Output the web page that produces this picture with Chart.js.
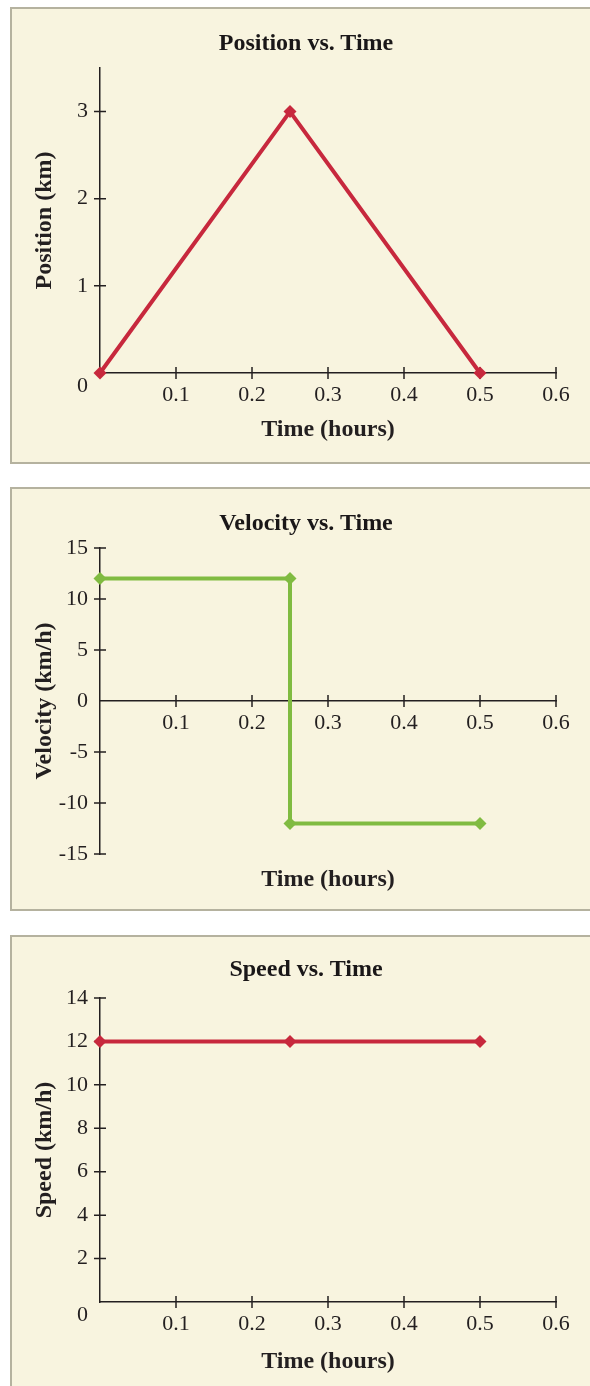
<!DOCTYPE html>
<html>
<head>
<meta charset="utf-8">
<script src="https://cdn.jsdelivr.net/npm/chart.js@4.4.1/dist/chart.umd.min.js"></script>
<style>
  html, body { margin: 0; padding: 0; background: #fff; overflow: hidden; }
  body { width: 590px; height: 1386px; position: relative; font-family: "Liberation Serif", serif; }
  .panel {
    position: absolute; left: 10px; width: 600px;
    background: #f8f4df;
    border: 2px solid #b5b29f;
    box-sizing: border-box;
  }
  .panel h3 {
    position: absolute; left: 0; width: 588px; margin: 0;
    text-align: center; font: bold 24px/28px "Liberation Serif", serif; color: #1a1718;
    z-index: 2;
  }
  .panel canvas { position: absolute; left: 0; }
</style>
</head>
<body>

<div class="panel" style="top:7px; height:457px;">
  <h3 style="top:19px;">Position vs. Time</h3>
  <canvas id="posChart" width="578" height="453" style="top:0;"></canvas>
</div>

<div class="panel" style="top:487px; height:424px;">
  <h3 style="top:19px;">Velocity vs. Time</h3>
  <canvas id="velChart" width="578" height="420" style="top:0;"></canvas>
</div>

<div class="panel" style="top:935px; height:460px;">
  <h3 style="top:17px;">Speed vs. Time</h3>
  <canvas id="speedChart" width="578" height="449" style="top:0;"></canvas>
</div>

<script>
// ---- data ----
const posTimes = [0, 0.25, 0.5];
const posValues = [0, 3, 0];

const velTimes = [0, 0.25, 0.25, 0.5];
const velValues = [12, 12, -12, -12];

const speedTimes = [0, 0.25, 0.5];
const speedValues = [12, 12, 12];

const timeRange = [0, 0.6];      // x axis, ticks every 0.1
const posRange = [0, 3.5];       // ticks every 1
const velRange = [-15, 15];      // ticks every 5
const speedRange = [0, 14];      // ticks every 2

const RED = '#c7283d';
const GREEN = '#80bb41';
const INK = '#231f20';
const FONT = '"Liberation Serif", serif';

// small "+" ticks that cross the axis lines
const crossTicks = {
  id: 'crossTicks',
  beforeDatasetsDraw(chart) {
    const {ctx, scales: {x, y}} = chart;
    const x0 = x.getPixelForValue(0);
    const y0 = y.getPixelForValue(0);
    ctx.save();
    ctx.strokeStyle = INK;
    ctx.lineWidth = 1.5;
    ctx.beginPath();
    x.ticks.forEach(t => {
      if (Math.abs(t.value) < 1e-9) return;
      const px = x.getPixelForValue(t.value);
      ctx.moveTo(px, y0 - 6); ctx.lineTo(px, y0 + 6);
    });
    y.ticks.forEach(t => {
      if (Math.abs(t.value) < 1e-9) return;
      const py = y.getPixelForValue(t.value);
      ctx.moveTo(x0 - 6, py); ctx.lineTo(x0 + 6, py);
    });
    ctx.stroke();
    ctx.restore();
  }
};

function points(xs, ys) {
  return xs.map((x, i) => ({x: x, y: ys[i]}));
}

function xScale(extra) {
  return Object.assign({
    type: 'linear',
    min: timeRange[0],
    max: timeRange[1],
    bounds: 'data',
    grid: {display: false, drawTicks: false},
    border: {display: true, color: INK, width: 1.5},
    ticks: {
      stepSize: 0.1,
      autoSkip: false,
      maxRotation: 0,
      padding: 9,
      color: INK,
      font: {family: FONT, size: 22},
      callback: v => (Math.abs(v) < 1e-9 ? '' : v.toFixed(1))
    }
  }, extra);
}

function yScale(range, step, titleText, zeroBelow) {
  return {
    type: 'linear',
    position: 'left',
    min: range[0],
    max: range[1],
    bounds: 'data',
    grid: {display: false, drawTicks: false},
    border: {display: true, color: INK, width: 1.5},
    ticks: {
      stepSize: step,
      includeBounds: false,
      autoSkip: false,
      padding: 12,
      color: INK,
      font: {family: FONT, size: 22},
      // corner "0" sits just below the origin
      callback: v => (zeroBelow && v === 0 ? ['', '0'] : String(v))
    },
    title: {
      display: true,
      text: titleText,
      color: INK,
      font: {family: FONT, size: 24, weight: 'bold'},
      padding: {top: 18.6, bottom: 0}
    },
    afterFit: s => { s.width = 88; }
  };
}

function lineSet(xs, ys, color) {
  return {
    data: points(xs, ys),
    borderColor: color,
    backgroundColor: color,
    borderWidth: 4,
    pointStyle: 'rectRot',
    pointRadius: 6.5,
    pointBorderWidth: 0,
    tension: 0,
    clip: false
  };
}

function baseOptions(padTop, scales) {
  return {
    responsive: false,
    animation: false,
    events: [],
    layout: {padding: {top: padTop, right: 34, left: 0, bottom: 0}},
    plugins: {legend: {display: false}, tooltip: {enabled: false}},
    scales: scales
  };
}

const timeTitle = (padBottom) => ({
  display: true,
  text: 'Time (hours)',
  color: INK,
  font: {family: FONT, size: 24, weight: 'bold'},
  padding: {top: 0, bottom: padBottom}
});

// ---- Position vs. Time ----
new Chart(document.getElementById('posChart'), {
  type: 'line',
  data: {datasets: [lineSet(posTimes, posValues, RED)]},
  options: baseOptions(59, {
    x: xScale({position: 'bottom', title: timeTitle(17.6), afterFit: s => { s.height = 89; }}),
    y: yScale(posRange, 1, 'Position (km)', true)
  }),
  plugins: [crossTicks]
});

// ---- Velocity vs. Time ----
new Chart(document.getElementById('velChart'), {
  type: 'line',
  data: {datasets: [lineSet(velTimes, velValues, GREEN)]},
  options: baseOptions(59, {
    x: xScale({position: {y: 0}}),
    xTitle: {
      type: 'linear', position: 'bottom', min: timeRange[0], max: timeRange[1],
      grid: {display: false, drawTicks: false},
      border: {display: false},
      ticks: {display: false},
      title: timeTitle(14.6),
      afterFit: s => { s.height = 55; }
    },
    y: yScale(velRange, 5, 'Velocity (km/h)', false)
  }),
  plugins: [crossTicks]
});

// ---- Speed vs. Time ----
new Chart(document.getElementById('speedChart'), {
  type: 'line',
  data: {datasets: [lineSet(speedTimes, speedValues, RED)]},
  options: baseOptions(61, {
    x: xScale({position: 'bottom', title: timeTitle(9.6), afterFit: s => { s.height = 84; }}),
    y: yScale(speedRange, 2, 'Speed (km/h)', true)
  }),
  plugins: [crossTicks]
});
</script>
</body>
</html>
